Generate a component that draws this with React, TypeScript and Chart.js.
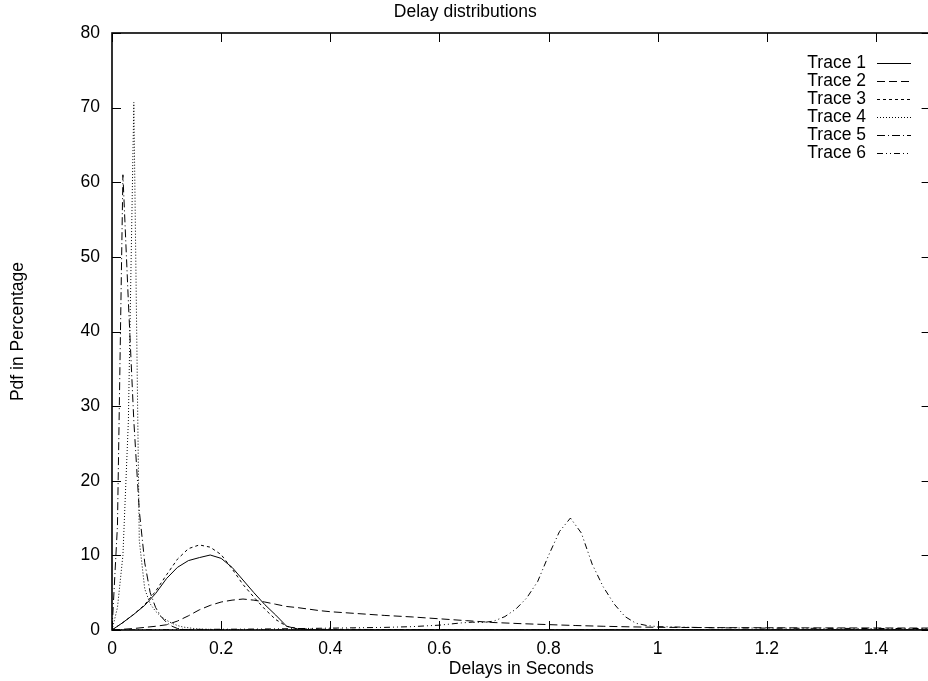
import React, { useEffect, useRef } from "react";
import { Chart, registerables } from "chart.js";

Chart.register(...registerables);

const titleText = "Delay distributions";
const xTitle = "Delays in Seconds";
const yTitle = "Pdf in Percentage";
const seriesLabels = ["Trace 1", "Trace 2", "Trace 3", "Trace 4", "Trace 5", "Trace 6"];

// x grid shared by traces 1-3
const gridA = [
  0, 0.02, 0.04, 0.06, 0.08, 0.1, 0.12, 0.14, 0.16, 0.18, 0.2, 0.22, 0.24, 0.26, 0.28, 0.3, 0.32, 0.34, 0.36, 0.38, 0.4,
  0.45, 0.5, 0.55, 0.6, 0.65, 0.7, 0.75, 0.8, 0.85, 0.9, 0.95, 1.0, 1.1, 1.2, 1.3, 1.4, 1.5,
];
const trace1 = [
  0, 1.0, 2.1, 3.3, 4.9, 6.9, 8.4, 9.3, 9.7, 10.05, 9.6, 8.4, 6.7, 5.0, 3.4, 2.0, 0.5, 0.15, 0.05, 0.02, 0,
  0, 0, 0, 0, 0, 0, 0, 0, 0, 0, 0, 0, 0, 0, 0, 0, 0,
];
const trace2 = [
  0, 0.1, 0.2, 0.35, 0.5, 0.7, 1.2, 1.9, 2.7, 3.3, 3.75, 4.0, 4.15, 4.0, 3.75, 3.45, 3.15, 3.0, 2.8, 2.6, 2.45,
  2.2, 1.95, 1.75, 1.5, 1.25, 1.0, 0.85, 0.72, 0.6, 0.5, 0.42, 0.36, 0.32, 0.3, 0.28, 0.27, 0.26,
];
const trace3 = [
  0, 1.0, 2.1, 3.4, 5.2, 7.4, 9.5, 10.9, 11.4, 11.1, 10.1, 8.2, 6.1, 4.4, 2.8, 1.4, 0.5, 0.2, 0.12, 0.1, 0.1,
  0.08, 0.06, 0.05, 0.04, 0.02, 0, 0, 0, 0, 0, 0, 0, 0, 0, 0, 0, 0,
];

// x grid shared by traces 4-5
const gridB = [
  0, 0.01, 0.02, 0.03, 0.04, 0.05, 0.06, 0.07, 0.08, 0.09, 0.1, 0.11, 0.12, 0.13, 0.14, 0.15, 0.16,
  0.18, 0.2, 0.25, 0.3, 0.4, 0.5, 0.6, 0.7, 0.8, 0.9, 1.0, 1.1, 1.2, 1.3, 1.4, 1.5,
];
const trace4 = [
  0, 3, 10, 28, 70.7, 12, 5.5, 3.5, 2.5, 1.8, 1.3, 0.9, 0.6, 0.4, 0.3, 0.2, 0.12,
  0.08, 0.05, 0.03, 0.02, 0, 0, 0, 0, 0, 0, 0, 0, 0, 0, 0, 0,
];
const trace5 = [
  0, 14, 61, 44, 28, 16, 9, 5, 3, 1.8, 1.0, 0.5, 0.2, 0.1, 0.05, 0.02, 0,
  0, 0, 0, 0, 0, 0, 0, 0, 0, 0, 0, 0, 0, 0, 0, 0,
];

// x grid for trace 6
const gridC = [
  0, 0.05, 0.1, 0.15, 0.2, 0.25, 0.3, 0.35, 0.4, 0.45, 0.5, 0.55, 0.6, 0.62, 0.64, 0.66, 0.68, 0.7, 0.72, 0.74,
  0.76, 0.78, 0.8, 0.82, 0.84, 0.86, 0.88, 0.9, 0.92, 0.94, 0.96, 0.98, 1.0, 1.1, 1.2, 1.3, 1.4, 1.5,
];
const trace6 = [
  0, 0.02, 0.05, 0.08, 0.1, 0.12, 0.15, 0.2, 0.25, 0.3, 0.35, 0.45, 0.65, 0.8, 0.95, 1.05, 1.0, 1.2, 1.8, 2.8,
  4.3, 6.5, 10.0, 13.2, 15.0, 13.0, 8.8, 5.8, 3.5, 1.8, 0.9, 0.6, 0.45, 0.3, 0.25, 0.22, 0.2, 0.2,
];

const xGrids = [gridA, gridA, gridA, gridB, gridB, gridC];
const yValues = [trace1, trace2, trace3, trace4, trace5, trace6];
const dashes: number[][] = [[], [8, 4], [3, 3], [1, 2], [8, 3, 1, 3], [6, 3, 1, 3, 1, 3]];

const FONT = "'Liberation Sans', Arial, Helvetica, sans-serif";
const FS = 17.5;

const framePlugin = {
  id: "gnuframe",
  afterDraw(chart: any) {
    const { ctx, chartArea } = chart;
    const { left, right, top, bottom } = chartArea;
    const xs = chart.scales.x;
    const ys = chart.scales.y;
    const tl = 9;
    ctx.save();
    ctx.strokeStyle = "#000";
    ctx.lineWidth = 1.6;
    ctx.setLineDash([]);
    ctx.strokeRect(left, top, right - left, bottom - top);
    ctx.lineWidth = 1;
    ctx.beginPath();
    xs.ticks.forEach((t: any) => {
      const px = Math.round(xs.getPixelForValue(t.value)) + 0.5;
      ctx.moveTo(px, bottom);
      ctx.lineTo(px, bottom - tl);
      ctx.moveTo(px, top);
      ctx.lineTo(px, top + tl);
    });
    ys.ticks.forEach((t: any) => {
      const py = Math.round(ys.getPixelForValue(t.value)) + 0.5;
      ctx.moveTo(left, py);
      ctx.lineTo(left + tl, py);
      ctx.moveTo(right, py);
      ctx.lineTo(right - tl, py);
    });
    ctx.stroke();

    // key (legend) in gnuplot style: label right-aligned, sample line to the right
    ctx.font = `${FS}px ${FONT}`;
    ctx.fillStyle = "#000";
    ctx.textAlign = "right";
    ctx.textBaseline = "middle";
    chart.data.datasets.forEach((ds: any, i: number) => {
      const y = 63 + 18 * i;
      ctx.fillText(ds.label, 866, y);
      ctx.beginPath();
      ctx.setLineDash(ds.borderDash || []);
      ctx.lineWidth = 1;
      ctx.moveTo(877, y + 0.5);
      ctx.lineTo(911, y + 0.5);
      ctx.stroke();
    });
    ctx.restore();
  },
};

export default function App() {
  const ref = useRef<HTMLCanvasElement | null>(null);
  useEffect(() => {
    if (!ref.current) return;
    const datasets = seriesLabels.map((label, i) => ({
      label,
      data: xGrids[i].map((x, j) => ({ x, y: yValues[i][j] })),
      borderColor: "#000",
      backgroundColor: "#000",
      borderWidth: 1,
      borderDash: dashes[i],
      pointRadius: 0,
      tension: 0,
      fill: false,
    }));
    const chart = new Chart(ref.current, {
      type: "line",
      data: { datasets },
      plugins: [framePlugin],
      options: {
        responsive: false,
        animation: false,
        devicePixelRatio: 1,
        layout: { padding: { left: 0, right: 3.4, top: 0, bottom: 0 } },
        plugins: {
          legend: { display: false },
          tooltip: { enabled: false },
          title: {
            display: true,
            text: titleText,
            color: "#000",
            font: { family: FONT, size: FS, weight: "normal" },
            padding: { top: 2, bottom: 10 },
          },
        },
        scales: {
          x: {
            type: "linear",
            min: 0,
            max: 1.5,
            grid: { display: false, drawTicks: false },
            border: { display: false },
            ticks: {
              stepSize: 0.2,
              includeBounds: false,
              color: "#000",
              padding: 9,
              maxRotation: 0,
              font: { family: FONT, size: FS },
              callback: (v: any) => String(Math.round(Number(v) * 10) / 10),
            },
            title: {
              display: true,
              text: xTitle,
              color: "#000",
              font: { family: FONT, size: FS },
              padding: { top: 0, bottom: 1.5 },
            },
            afterFit(scale: any) {
              scale.height = 51;
            },
          },
          y: {
            type: "linear",
            min: 0,
            max: 80,
            grid: { display: false, drawTicks: false },
            border: { display: false },
            ticks: {
              stepSize: 10,
              color: "#000",
              padding: 12,
              font: { family: FONT, size: FS },
            },
            title: {
              display: true,
              text: yTitle,
              color: "#000",
              font: { family: FONT, size: FS },
              padding: { top: 8, bottom: 0 },
            },
            afterFit(scale: any) {
              scale.width = 112;
            },
          },
        },
      },
    });
    return () => chart.destroy();
  }, []);
  return (
    <div
      style={{
        position: "fixed",
        left: 0,
        top: 0,
        width: 928,
        height: 681,
        overflow: "hidden",
        background: "#fff",
      }}
    >
      <canvas ref={ref} width={934} height={681} style={{ width: 934, height: 681, display: "block" }} />
    </div>
  );
}
